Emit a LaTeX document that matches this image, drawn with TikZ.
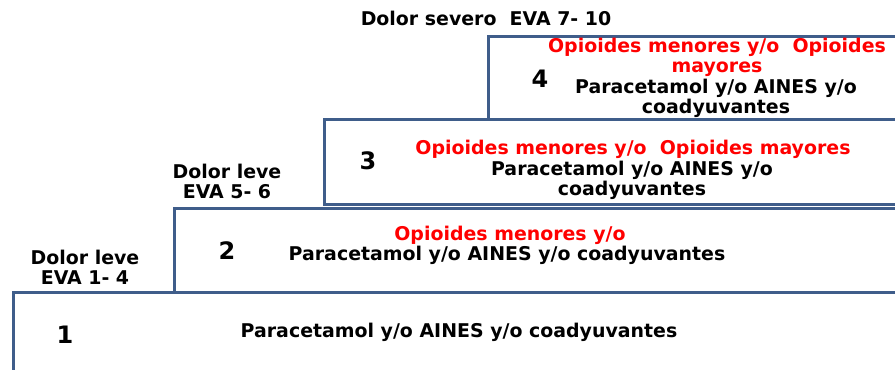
\documentclass[tikz,border=0pt]{standalone}
\usepackage{fontspec}
\setmainfont{DejaVu Sans}
\usepackage{tikz}
\usetikzlibrary{positioning}
\definecolor{stepblue}{RGB}{63,93,138}
\definecolor{opired}{RGB}{255,0,0}

\begin{document}
\begin{tikzpicture}[x=0.75pt,y=-0.75pt,
  txt/.style={font=\bfseries\fontsize{14.2}{15}\selectfont, align=center, inner sep=0pt},
  num/.style={font=\bfseries\fontsize{18}{18}\selectfont, inner sep=0pt},
  stepbox/.style={draw=stepblue, line width=2.2pt, rectangle, anchor=north west, inner sep=0pt}]
  \useasboundingbox (0,0) rectangle (895,370);
  \clip (0,0) rectangle (895,370);
  % escalones
  \node[stepbox, minimum width=1000*0.75pt, minimum height=100*0.75pt] (s1) at (12,291) {};
  \node[stepbox, minimum width=800*0.75pt, minimum height=84*0.75pt] (s2) at (173,207) {};
  \node[stepbox, minimum width=650*0.75pt, minimum height=85*0.75pt] (s3) at (323,118) {};
  \node[stepbox, minimum width=500*0.75pt, minimum height=83*0.75pt] (s4) at (487,35) {};
  % etiquetas de dolor
  \node[txt] (eva1) at (85,267) {Dolor leve\\EVA 1- 4};
  \node[txt] (eva2) at (227,181) {Dolor leve\\EVA 5- 6};
  \node[txt] (eva3) at (486,18) {Dolor severo\ \ EVA 7- 10};
  % escalon 1
  \node[num] (n1) at (65,335) {1};
  \node[txt] (t1) at (459,332) {Paracetamol y/o AINES y/o coadyuvantes};
  % escalon 2
  \node[num] (n2) at (227,251) {2};
  \node[txt, text=opired] (r2) at (510,235) {Opioides menores y/o};
  \node[txt] (t2) at (507,255) {Paracetamol y/o AINES y/o coadyuvantes};
  % escalon 3
  \node[num] (n3) at (368,161) {3};
  \node[txt, text=opired] (r3) at (633,149) {Opioides menores y/o\ \ Opioides mayores};
  \node[txt] (t3) at (632,180) {Paracetamol y/o AINES y/o\\coadyuvantes};
  % escalon 4
  \node[num] (n4) at (540,79) {4};
  \node[txt, text=opired] (r4) at (717,57) {Opioides menores y/o\ \ Opioides\\mayores};
  \node[txt] (t4) at (716,98) {Paracetamol y/o AINES y/o\\coadyuvantes};
\end{tikzpicture}
\end{document}
